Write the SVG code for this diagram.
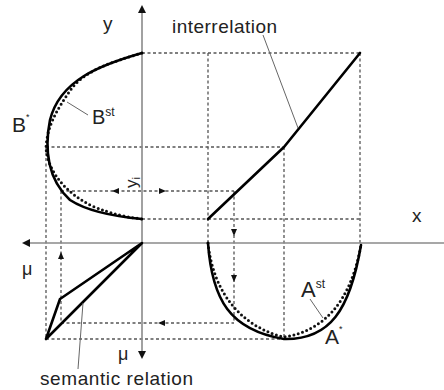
<svg xmlns="http://www.w3.org/2000/svg" width="444" height="390" viewBox="0 0 444 390">
<defs>
<style>
.dash{stroke:#555;stroke-width:1.3;stroke-dasharray:3 2.5;fill:none}
.axis{stroke:#8a8a8a;stroke-width:1.6;fill:none}
.curve{stroke:#000;stroke-width:2.6;fill:none;stroke-linejoin:round;stroke-linecap:round}
.dot{stroke:#111;stroke-width:3;fill:none;stroke-dasharray:0 4.5;stroke-linecap:round}
.lead{stroke:#666;stroke-width:1;fill:none}
.ah{fill:#111}
text{font-family:"Liberation Sans",Arial,sans-serif;fill:#222}
</style>
</defs>
<rect width="444" height="390" fill="#fff"/>
<g id="grid">
<line class="dash" x1="142" y1="53" x2="360" y2="53"/>
<line class="dash" x1="360" y1="53" x2="360" y2="243"/>
<line class="dash" x1="208" y1="53" x2="208" y2="243"/>
<line class="dash" x1="46" y1="147" x2="284" y2="147"/>
<line class="dash" x1="284" y1="147" x2="284" y2="339"/>
<line class="dash" x1="61" y1="191" x2="234" y2="191"/>
<line class="dash" x1="142" y1="219" x2="360" y2="219"/>
<line class="dash" x1="46" y1="147" x2="46" y2="339"/>
<line class="dash" x1="61" y1="191" x2="61" y2="323"/>
<line class="dash" x1="234" y1="191" x2="234" y2="323"/>
<line class="dash" x1="61" y1="323" x2="234" y2="323"/>
<line class="dash" x1="46" y1="339" x2="284" y2="339"/>
<path class="ah" d="M112,191 l7,-3 v6 z"/>
<path class="ah" d="M166,191 l-7,-3 v6 z"/>
<path class="ah" d="M61,252 l-3,7 h6 z"/>
<path class="ah" d="M234,236 l-3,-7 h6 z"/>
<path class="ah" d="M234,282 l-3,-7 h6 z"/>
<path class="ah" d="M158,323 l7,-3 v6 z"/>
</g>
<g id="axes">
<line class="axis" x1="142" y1="10" x2="142" y2="353"/>
<path class="ah" d="M142,5 l-4,8 h8 z"/>
<path class="ah" d="M142,359 l-4,-8 h8 z"/>
<line class="axis" x1="28" y1="243" x2="444" y2="243"/>
<path class="ah" d="M22,243 l8,-4 v8 z"/>
<text x="103" y="30" font-size="19">y</text>
<text x="412" y="222" font-size="19">x</text>
<text x="22" y="275" font-size="18">μ</text>
<text x="118" y="360" font-size="18">μ</text>
</g>
<g id="B-curve">
<path class="dot" d="M142,53 C112,62 86,70 72,88 C58,108 47,125 46,148 C48,172 66,193 92,206 C112,214 126,217 142,219"/>
<path class="curve" d="M142,53 C100,65 60,80 50,120 C44,150 48,180 70,200 C90,213 120,217 142,219"/>
<text x="12" y="132" font-size="21">B<tspan font-size="9" dy="-12">*</tspan></text>
<text x="92" y="124" font-size="20">B<tspan font-size="12" dy="-8">st</tspan></text>
<line class="lead" x1="88" y1="115" x2="67" y2="102"/>
</g>
<g id="A-curve">
<path class="dot" d="M208,243 C214,298 246,328 284,337 C322,331 350,305 361,245"/>
<path class="curve" d="M208,243 C212,300 230,330 284,339 C330,340 350,310 361,245"/>
<text x="301" y="297" font-size="22">A<tspan font-size="12" dy="-9">st</tspan></text>
<line class="lead" x1="310" y1="299" x2="323" y2="318"/>
<text x="325" y="344" font-size="21">A<tspan font-size="9" dy="-12">*</tspan></text>
</g>
<g id="interrelation">
<path class="curve" d="M208,219 L284,147 L360,53"/>
<text x="172" y="33" font-size="19" textLength="105">interrelation</text>
<line class="lead" x1="263" y1="35" x2="298" y2="128"/>
</g>
<g id="semantic-relation">
<path class="curve" d="M142,243 L46,339 L60,299 Z"/>
<text x="40" y="385" font-size="19" textLength="153">semantic relation</text>
<line class="lead" x1="78" y1="369" x2="83" y2="303"/>
</g>
<g id="yi">
<text transform="translate(137,188) rotate(-90)" font-size="17">y<tspan font-size="11" dy="3">i</tspan></text>
</g>
</svg>
